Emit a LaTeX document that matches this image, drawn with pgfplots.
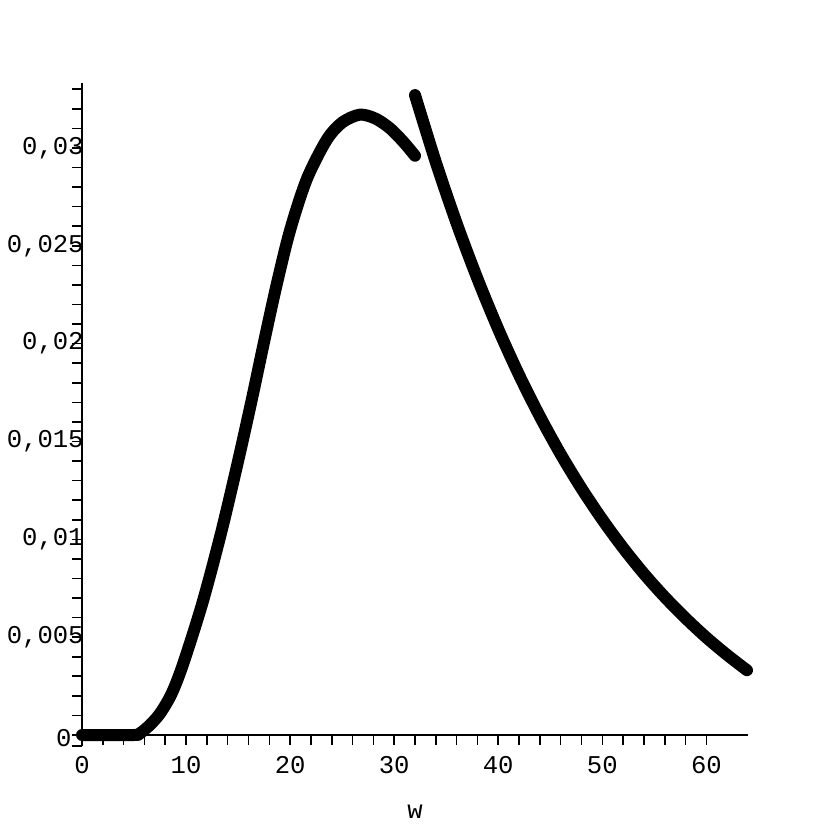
\documentclass[border=0pt]{standalone}
\usepackage{fontspec}
\setmainfont{Liberation Mono}
\usepackage{pgfplots}
\pgfplotsset{compat=1.18}

\begin{document}
\begin{tikzpicture}
% page frame: 1 px of the reference = 0.5pt, axis origin at (0,0)
\path[use as bounding box] (-41pt,-47.5pt) rectangle (374pt,367.5pt);
\begin{axis}[
  at={(0,0)}, anchor=origin,
  scale only axis, width=333pt, height=331.3pt,
  xmin=0, xmax=64, ymin=-0.00056, ymax=0.0333,
  axis lines=middle,
  axis line style={-, line width=1pt},
  every inner x axis line/.append style={-},
  every inner y axis line/.append style={-},
  hide obscured x ticks=false, hide obscured y ticks=false,
  xtick={0,10,...,60}, minor x tick num=4,
  ytick={0.005,0.01,0.015,0.02,0.025,0.03},
  minor ytick={0.001,0.002,0.003,0.004,0.006,0.007,0.008,0.009,
    0.011,0.012,0.013,0.014,0.016,0.017,0.018,0.019,
    0.021,0.022,0.023,0.024,0.026,0.027,0.028,0.029,
    0.031,0.032,0.033},
  extra y ticks={-0.00056,0}, extra y tick labels={,0},
  extra y tick style={yticklabel style={xshift=-6pt, yshift=-1.5pt}},
  tick align=outside,
  major tick length=5pt, minor tick length=5pt,
  tick style={line width=0.8pt, black},
  scaled y ticks=false,
  /pgf/number format/assume math mode=true,
  every tick label/.append style={font=\fontsize{12.8}{15}\selectfont},
  yticklabel style={/pgf/number format/fixed, /pgf/number format/precision=3,
    /pgf/number format/use comma, anchor=east, inner sep=0pt, xshift=6pt},
  xticklabel style={anchor=north, inner sep=0pt, yshift=-5.5pt},
  xlabel={w},
  xlabel style={font=\fontsize{12.8}{15}\selectfont, at={(axis description cs:0.5,0)},
    anchor=center, yshift=-33pt},
  clip=false,
]
% left piece of the density
\addplot[black, line width=6pt, line cap=round, line join=round, smooth, tension=0.5] coordinates {
  (0,0) (5,0) (5.6,0.0001) (6.5,0.0005) (7.5,0.0011) (8.6,0.0021)
  (9.7,0.0036) (11.6,0.0068) (13.4,0.0104) (15,0.0140) (16.3,0.0171)
  (17.5,0.0201) (18.7,0.0230) (20,0.0258) (21.6,0.0284) (23.5,0.0304)
  (25,0.0313) (26.7,0.0317) (28.2,0.0315) (29.6,0.0310) (30.9,0.0303)
  (32,0.0296)
};
% right piece
\addplot[black, line width=6pt, line cap=round, line join=round, smooth, tension=0.5] coordinates {
  (32,0.0327) (34,0.02927) (36,0.02615) (38,0.02332) (40,0.02074)
  (42,0.01840) (44,0.01628) (46,0.01435) (48,0.01260) (50,0.01101)
  (52,0.00956) (54,0.00824) (56,0.00705) (58,0.00597) (60,0.00498)
  (62,0.00409) (63.9,0.00331)
};
\end{axis}
\end{tikzpicture}
\end{document}
